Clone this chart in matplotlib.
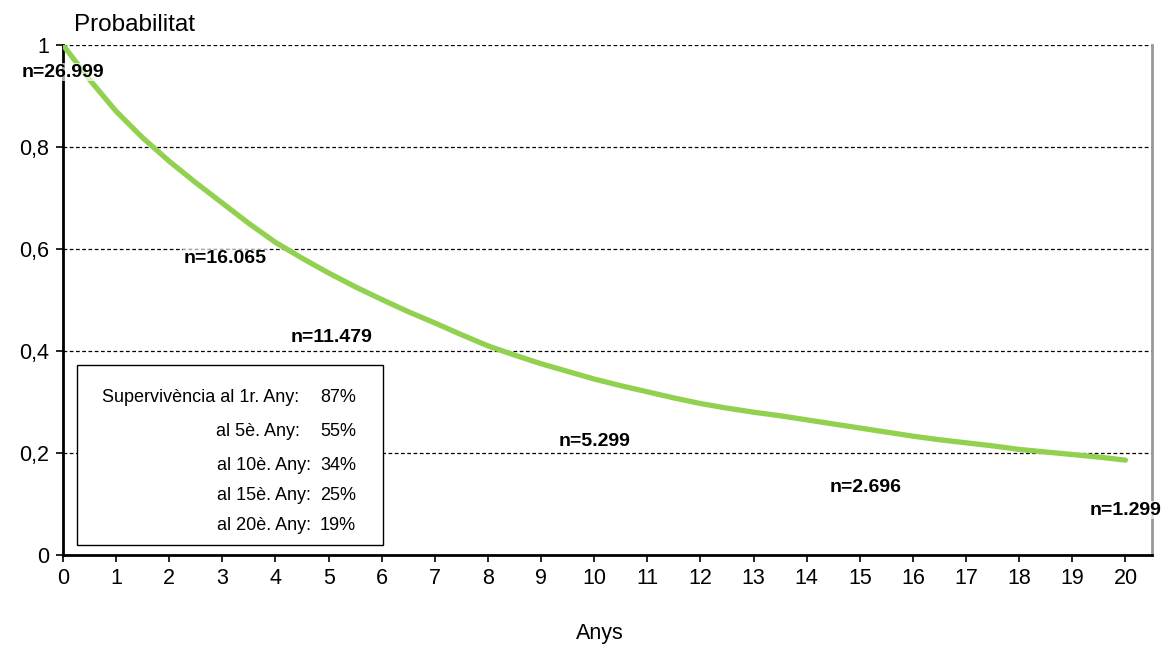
import matplotlib.pyplot as plt
import numpy as np

# survival curve (every half year)
anys = [0, 0.5, 1, 1.5, 2, 2.5, 3, 3.5, 4, 4.5, 5, 5.5, 6, 6.5, 7, 7.5, 8, 8.5, 9, 9.5, 10,
        10.5, 11, 11.5, 12, 12.5, 13, 13.5, 14, 14.5, 15, 15.5, 16, 16.5, 17, 17.5, 18, 18.5,
        19, 19.5, 20]
prob = [1.0, 0.932, 0.87, 0.818, 0.772, 0.73, 0.69, 0.65, 0.613, 0.582, 0.553, 0.526, 0.501,
        0.477, 0.455, 0.432, 0.41, 0.392, 0.375, 0.36, 0.345, 0.332, 0.32, 0.308, 0.297, 0.288,
        0.28, 0.273, 0.265, 0.257, 0.249, 0.241, 0.233, 0.226, 0.22, 0.214, 0.207, 0.202,
        0.197, 0.192, 0.186]

xticks = list(range(0, 21))

# n at risk labels
n_x = [0, 3.05, 5.05, 10, 15.1, 20]
n_y = [0.947, 0.582, 0.427, 0.222, 0.133, 0.088]
n_txt = ['n=26.999', 'n=16.065', 'n=11.479', 'n=5.299', 'n=2.696', 'n=1.299']

yticks = [0, 0.2, 0.4, 0.6, 0.8, 1]
ylabels = ['0', '0,2', '0,4', '0,6', '0,8', '1']

leg_labels = ['Supervivència al 1r. Any:', 'al 5è. Any:', 'al 10è. Any:', 'al 15è. Any:', 'al 20è. Any:']
leg_pct = ['87%', '55%', '34%', '25%', '19%']

plt.rcParams['font.family'] = ['Liberation Sans', 'DejaVu Sans']

fig = plt.figure(figsize=(11.64, 6.47), dpi=100)
ax = fig.add_axes([63/1164, 92/647, 1089/1164, 510/647])

ax.plot(anys, prob, color='#92D050', lw=3.8, solid_capstyle='round',
        solid_joinstyle='round', zorder=3)

ax.set_xlim(0, 20.5)
ax.set_ylim(0, 1)
ax.set_xticks(xticks)
ax.set_xticklabels([str(a) for a in xticks], fontsize=15.5)
ax.set_yticks(yticks)
ax.set_yticklabels(ylabels, fontsize=15.5)
ax.tick_params(axis='both', direction='out', length=5, width=1.2, colors='black')
ax.tick_params(axis='x', pad=4)
ax.tick_params(axis='y', pad=5)

for g in yticks[1:]:
    ax.axhline(g, color='black', lw=0.9, ls=(0, (3, 2)), zorder=1)

ax.spines['top'].set_visible(False)
ax.spines['right'].set_color('#999999')
ax.spines['right'].set_linewidth(2)
ax.spines['left'].set_linewidth(2)
ax.spines['bottom'].set_linewidth(2)

for xx, yy, t in zip(n_x, n_y, n_txt):
    ax.text(xx, yy, t, ha='center', va='center', fontsize=14, fontweight='bold', zorder=5,
            bbox=dict(facecolor='white', edgecolor='none', alpha=0.65, pad=0.5))

# legend box
box = plt.Rectangle((77/1164, (647-545)/647), 306/1164, 180/647, transform=fig.transFigure,
                    facecolor='white', edgecolor='black', lw=1, zorder=6)
fig.patches.append(box)
rows_y = [398, 432, 465, 496, 526]
lab_right = [299, 300, 311, 311, 311]
for lab, pct, py, lr in zip(leg_labels, leg_pct, rows_y, lab_right):
    fig.text(lr/1164, 1 - py/647, lab, ha='right', va='center', fontsize=13, zorder=7)
    fig.text(356/1164, 1 - py/647, pct, ha='right', va='center', fontsize=13, zorder=7)

fig.text(74/1164, 1 - 25/647, 'Probabilitat', ha='left', va='center', fontsize=17.5)
fig.text(600/1164, 1 - 633/647, 'Anys', ha='center', va='center', fontsize=15.5)

fig.savefig('out.png', dpi=100)
